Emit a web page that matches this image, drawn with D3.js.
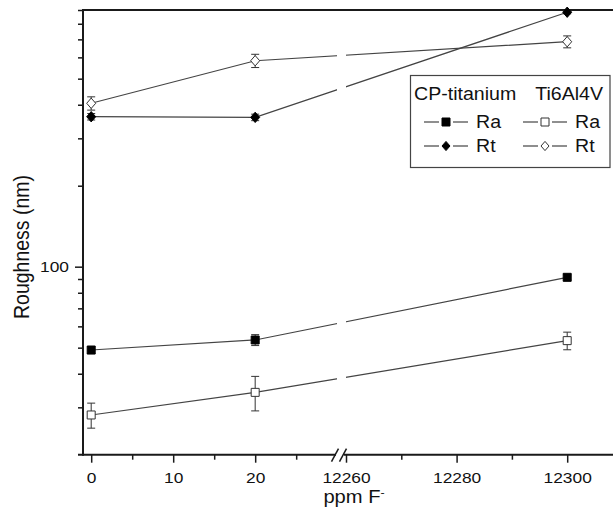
<!DOCTYPE html>
<html>
<head>
<meta charset="utf-8">
<script src="https://cdn.jsdelivr.net/npm/d3@7"></script>
<style>
  body { margin: 0; background: #fff; }
  svg { display: block; }
  text { font-family: "Liberation Sans", Arial, sans-serif; fill: #111; }
</style>
</head>
<body>
<svg id="chart" width="613" height="512"></svg>
<script>
// Fluoride concentration (ppm F-) at which each surface was measured
const fluoride = [0, 20, 12300];

// CP-titanium
const cpRa = [49.0, 53.4, 91.3];
const cpRaErr = [1.5, 2.5, 2.0];
const cpRt = [361, 359, 883];
const cpRtErr = [10, 10, 12];

// Ti6Al4V
const tiRa = [28.1, 34.1, 53.1];
const tiRaErr = [3.0, 5.0, 4.0];
const tiRt = [405, 583, 686];
const tiRtErr = [23, 33, 35];

// Axis ticks
const lowMajorTicks = [0, 10, 20];
const lowMinorTicks = [5, 15, 25];
const highMajorTicks = [12260, 12280, 12300];
const highMinorTicks = [12270, 12290];
const yMajorTicks = [100];
const yMinorTicks = [30, 40, 50, 60, 70, 80, 90, 200, 300, 400, 500, 600, 700, 800, 900];

const svg = d3.select("#chart");
const W = 613;
const plotLeft = 83, plotTop = 10, plotBottom = 454.7;
const axisColor = "#1a1a1a";
const lineColor = "#444";
const stretch = 1.12;

// Broken x axis: a low segment (0-30) and a high segment (12260-12310)
const xLow = d3.scaleLinear().domain([-1, 30.1]).range([plotLeft, 338]);
const xHigh = d3.scaleLinear().domain([12260, 12310]).range([346, 622.5]);
const x = v => (v < 1000 ? xLow(v) : xHigh(v));
const y = d3.scaleLog().domain([20, 900]).range([plotBottom, plotTop]);

// Horizontal text helper with slight horizontal stretch
function label(g, px, py, str, size, anchor) {
  return g.append("text")
    .attr("transform", `translate(${px},${py}) scale(${stretch},1)`)
    .attr("text-anchor", anchor || "start")
    .style("font-size", size + "px")
    .text(str);
}

// Frame: top border
svg.append("line")
  .attr("x1", plotLeft).attr("x2", W)
  .attr("y1", plotTop).attr("y2", plotTop)
  .attr("stroke", axisColor).attr("stroke-width", 2);

// Y axis (log)
const yAxisG = svg.append("g").attr("transform", `translate(${plotLeft},0)`);
yAxisG.append("g")
  .call(d3.axisLeft(y).tickValues(yMinorTicks).tickFormat("").tickSize(5).tickSizeOuter(0))
  .call(g => g.select(".domain").remove());
yAxisG.append("g")
  .call(d3.axisLeft(y).tickValues(yMajorTicks).tickFormat(d3.format("d")).tickSize(8).tickSizeOuter(0))
  .call(g => g.select(".domain").remove())
  .call(g => g.selectAll("text")
    .attr("transform", `scale(${stretch},1)`)
    .attr("x", -14 / stretch)
    .style("font-size", "15.5px").style("font-family", "Liberation Sans, Arial, sans-serif").attr("fill", "#111"));
yAxisG.selectAll(".tick line").attr("stroke", axisColor).attr("stroke-width", 1.5);
yAxisG.append("line")
  .attr("x1", 0).attr("x2", 0).attr("y1", plotTop - 1).attr("y2", plotBottom + 1)
  .attr("stroke", axisColor).attr("stroke-width", 2);

// X axis segments
function bottomAxis(scale, major, minor) {
  const g = svg.append("g").attr("transform", `translate(0,${plotBottom})`);
  g.append("g")
    .call(d3.axisBottom(scale).tickValues(minor).tickFormat("").tickSize(5).tickSizeOuter(0))
    .call(a => a.select(".domain").remove());
  g.append("g")
    .call(d3.axisBottom(scale).tickValues(major).tickFormat(d3.format("d")).tickSize(8).tickSizeOuter(0))
    .call(a => a.select(".domain").remove())
    .call(a => a.selectAll("text")
      .attr("y", 17)
      .attr("transform", `scale(${stretch},1)`)
      .style("font-size", "15.5px").style("font-family", "Liberation Sans, Arial, sans-serif").attr("fill", "#111"));
  g.selectAll(".tick line").attr("stroke", axisColor).attr("stroke-width", 1.5);
  return g;
}
bottomAxis(xLow, lowMajorTicks, lowMinorTicks);
bottomAxis(xHigh, highMajorTicks, highMinorTicks);

const breakX = xLow.range()[1];
svg.append("line")
  .attr("x1", 78).attr("x2", breakX - 2).attr("y1", plotBottom).attr("y2", plotBottom)
  .attr("stroke", axisColor).attr("stroke-width", 2);
svg.append("line")
  .attr("x1", breakX + 6).attr("x2", W).attr("y1", plotBottom).attr("y2", plotBottom)
  .attr("stroke", axisColor).attr("stroke-width", 2);
// Axis break marks
[breakX - 3, breakX + 5].forEach(cx => {
  svg.append("line")
    .attr("x1", cx - 3.5).attr("y1", plotBottom + 7)
    .attr("x2", cx + 3.5).attr("y2", plotBottom - 6)
    .attr("stroke", axisColor).attr("stroke-width", 1.5);
});

// Axis titles
svg.append("text")
  .attr("transform", `translate(29,247) rotate(-90) scale(1,${stretch})`)
  .attr("text-anchor", "middle")
  .style("font-size", "19.5px")
  .text("Roughness (nm)");
const xt = svg.append("text")
  .attr("transform", `translate(354,503) scale(${stretch},1)`)
  .attr("text-anchor", "middle")
  .style("font-size", "18px");
xt.append("tspan").text("ppm F");
xt.append("tspan").attr("dy", -7).style("font-size", "11px").text("-");

// Line-break gap in the data lines where the x axis is broken
const defs = svg.append("defs");
const clip = defs.append("clipPath").attr("id", "gapclip");
clip.append("rect").attr("x", 0).attr("y", 0).attr("width", breakX - 1).attr("height", 512);
clip.append("rect").attr("x", breakX + 8).attr("y", 0).attr("width", W).attr("height", 512);

const series = [
  { vals: cpRa, err: cpRaErr, shape: "square", filled: true },
  { vals: cpRt, err: cpRtErr, shape: "diamond", filled: true },
  { vals: tiRa, err: tiRaErr, shape: "square", filled: false },
  { vals: tiRt, err: tiRtErr, shape: "diamond", filled: false }
];

const line = d3.line().x((d, i) => x(fluoride[i])).y(d => y(d));

const plot = svg.append("g");
series.forEach(s => {
  plot.append("path")
    .datum(s.vals)
    .attr("d", line)
    .attr("fill", "none")
    .attr("stroke", lineColor)
    .attr("stroke-width", 1.2)
    .attr("clip-path", "url(#gapclip)");
});

function marker(g, cx, cy, shape, filled, size) {
  const h = size / 2;
  let d;
  if (shape === "square") {
    d = `M${cx - h},${cy - h}H${cx + h}V${cy + h}H${cx - h}Z`;
  } else {
    const hx = h * 1.0, hy = h * 1.15;
    d = `M${cx},${cy - hy}L${cx + hx},${cy}L${cx},${cy + hy}L${cx - hx},${cy}Z`;
  }
  g.append("path")
    .attr("d", d)
    .attr("fill", filled ? "#000" : "#fff")
    .attr("stroke", filled ? "#000" : "#333")
    .attr("stroke-width", 1);
}

series.forEach(s => {
  s.vals.forEach((v, i) => {
    const cx = x(fluoride[i]);
    const yHi = y(v + s.err[i]), yLo = y(v - s.err[i]);
    const eb = plot.append("g").attr("stroke", "#333").attr("stroke-width", 1);
    eb.append("line").attr("x1", cx).attr("x2", cx).attr("y1", yHi).attr("y2", yLo);
    eb.append("line").attr("x1", cx - 4).attr("x2", cx + 4).attr("y1", yHi).attr("y2", yHi);
    eb.append("line").attr("x1", cx - 4).attr("x2", cx + 4).attr("y1", yLo).attr("y2", yLo);
    marker(plot, cx, y(v), s.shape, s.filled, s.shape === "square" ? 8 : 9);
  });
});

// Legend
const lg = svg.append("g");
lg.append("rect")
  .attr("x", 410.5).attr("y", 75.5).attr("width", 199.5).attr("height", 92)
  .attr("fill", "#fff").attr("stroke", "#444").attr("stroke-width", 1.2);
label(lg, 414, 100, "CP-titanium", 17.5, "start");
label(lg, 603, 100, "Ti6Al4V", 17.5, "end");

const legendRows = [
  { x0: 424, cy: 122, shape: "square", filled: true, name: "Ra" },
  { x0: 424, cy: 146, shape: "diamond", filled: true, name: "Rt" },
  { x0: 523, cy: 122, shape: "square", filled: false, name: "Ra" },
  { x0: 523, cy: 146, shape: "diamond", filled: false, name: "Rt" }
];
legendRows.forEach(r => {
  const mx = r.x0 + 22;
  lg.append("line").attr("x1", r.x0).attr("x2", mx - 7).attr("y1", r.cy).attr("y2", r.cy)
    .attr("stroke", lineColor).attr("stroke-width", 1.2);
  lg.append("line").attr("x1", mx + 7).attr("x2", r.x0 + 44).attr("y1", r.cy).attr("y2", r.cy)
    .attr("stroke", lineColor).attr("stroke-width", 1.2);
  marker(lg, mx, r.cy, r.shape, r.filled, 8);
  label(lg, r.x0 + 52, r.cy + 6, r.name, 17.5, "start");
});
</script>
</body>
</html>
